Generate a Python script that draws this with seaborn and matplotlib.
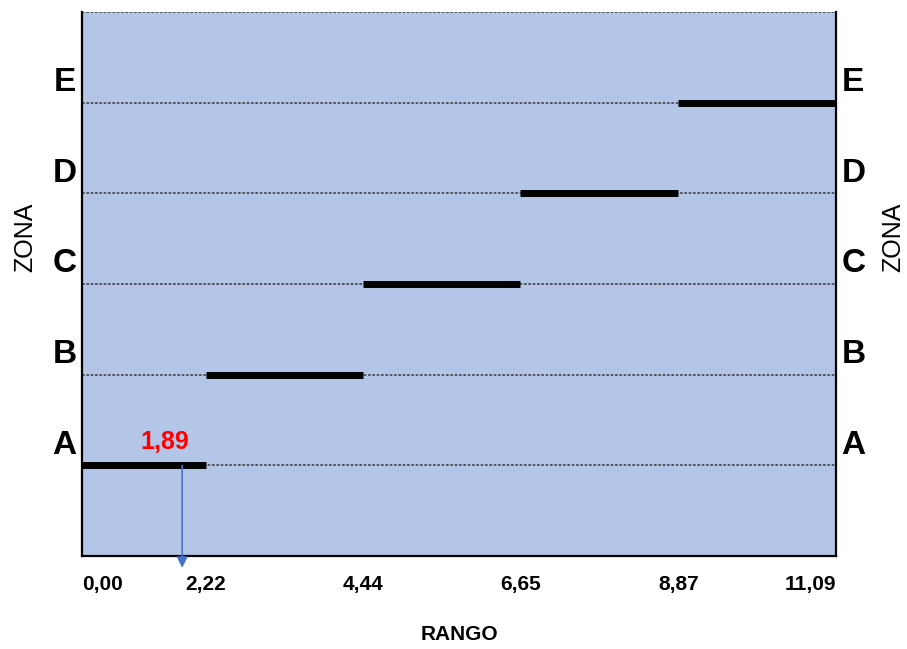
import seaborn as sns
import matplotlib.pyplot as plt
import pandas as pd

# chart values
zonas = ['A', 'B', 'C', 'D', 'E']
zona_nivel = [1, 2, 3, 4, 5]
rango = [0.00, 2.22, 4.44, 6.65, 8.87, 11.09]
rango_labels = ['0,00', '2,22', '4,44', '6,65', '8,87', '11,09']
valor = 1.89
valor_label = '1,89'

sns.set_theme(style='white')
plt.rcParams['font.family'] = ['Liberation Sans Narrow', 'Liberation Sans', 'DejaVu Sans']
for k in ('text.color', 'axes.labelcolor', 'xtick.color', 'ytick.color'):
    plt.rcParams[k] = 'black'

fig = plt.figure(figsize=(9.07, 6.49), dpi=100)
ax = fig.add_axes([82 / 907, 1 - 556 / 649, 754 / 907, 544 / 649])
ax.set_facecolor('#B4C6E7')

# segments: zone i spans rango[i] -> rango[i+1]
seg = pd.DataFrame({
    'zona': [z for z in zonas for _ in range(2)],
    'x': [rango[i + k] for i in range(len(zonas)) for k in range(2)],
    'y': [n for n in zona_nivel for _ in range(2)],
})

for n in zona_nivel + [6]:
    ax.axhline(n, color='#444444', lw=1.2, ls=(0, (1.6, 1.0)), zorder=1)

sns.lineplot(data=seg, x='x', y='y', units='zona', estimator=None, sort=False,
             color='black', lw=5, solid_capstyle='butt', ax=ax, zorder=3,
             legend=False)

ax.set_xlim(0.48, rango[-1])
ax.set_ylim(0, 6)

ticks = [ax.get_xlim()[0]] + rango[1:]
ax.set_xticks(ticks)
ax.set_xticklabels(rango_labels, fontsize=15, fontweight='bold')
tl = ax.get_xticklabels()
tl[0].set_ha('left')
tl[-1].set_ha('right')
ax.tick_params(axis='x', length=0, pad=14)

ax.set_yticks([n + 0.26 for n in zona_nivel])
ax.set_yticklabels(zonas, fontsize=24, fontweight='bold')
ax.tick_params(axis='y', length=0, pad=4, labelleft=True, labelright=True)

ax.set_xlabel('RANGO', fontsize=15, fontweight='bold', labelpad=22)
ax.set_ylabel('')
for xp in (-0.0756, 1.0756):
    ax.text(xp, 0.586, 'ZONA', transform=ax.transAxes, rotation=90,
            ha='center', va='center', fontsize=18, family=['Liberation Sans', 'DejaVu Sans'])

# marker value
ax.annotate('', xy=(valor, -0.13), xytext=(valor, zona_nivel[0]),
            arrowprops=dict(arrowstyle='-|>', color='#4472C4', lw=1.2,
                            mutation_scale=16, shrinkA=0, shrinkB=0),
            annotation_clip=False, zorder=4)
ax.text(valor - 0.25, zona_nivel[0] + 0.12, valor_label, color='red', fontsize=18,
        fontweight='bold', ha='center', va='bottom')

for side in ('left', 'right', 'bottom'):
    ax.spines[side].set_color('black')
    ax.spines[side].set_linewidth(1.6)
ax.spines['top'].set_visible(False)

plt.savefig('out.png', dpi=100)
plt.close()
